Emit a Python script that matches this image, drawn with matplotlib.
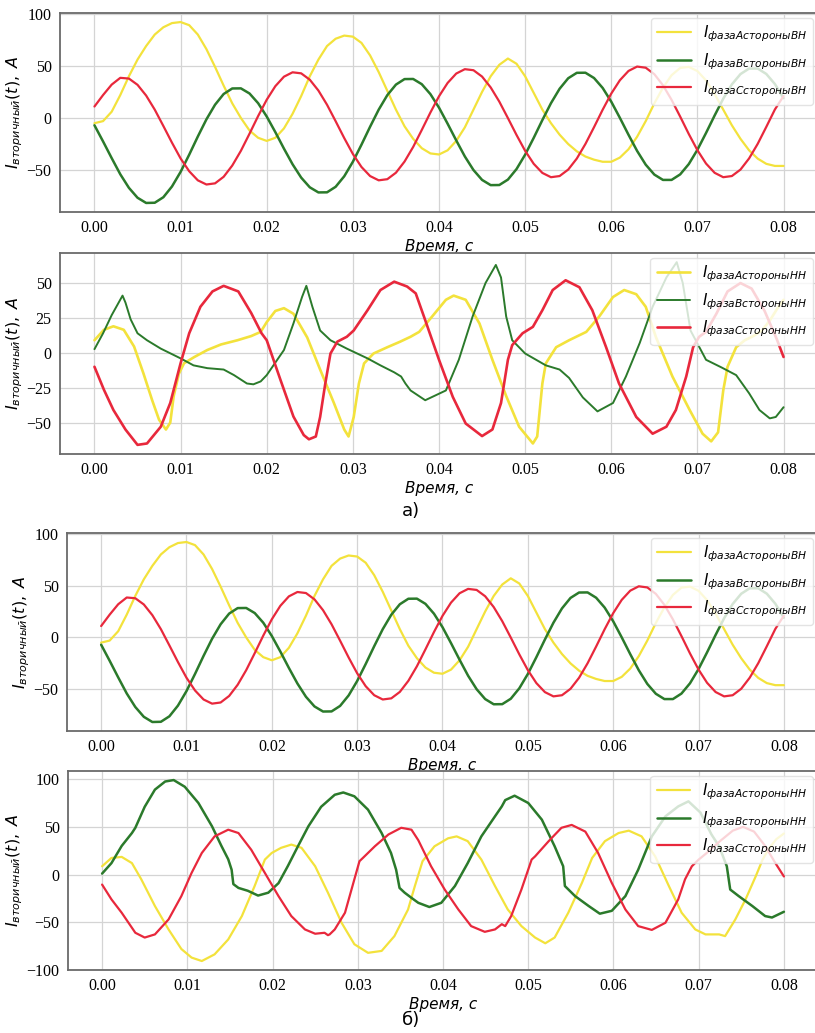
import numpy as np
import matplotlib
matplotlib.use("Agg")
import matplotlib.pyplot as plt

# --- data (time in ms, current in A) ---
# ВН side, same in both cases (a and б), sampled every 1 ms
t_bh = list(range(0, 81))
ia_bh = [-5, -3, 6, 22, 40, 56, 69, 80, 87, 91,
         92, 89, 80, 66, 49, 31, 14, 0, -12, -19,
         -22, -19, -10, 4, 21, 40, 56, 69, 76, 79,
         78, 72, 60, 44, 26, 8, -8, -20, -29, -34,
         -35, -31, -22, -9, 8, 25, 40, 51, 57, 52,
         40, 24, 8, -5, -16, -25, -32, -37, -40, -42,
         -42, -38, -30, -18, -3, 14, 29, 41, 48, 49,
         45, 36, 23, 8, -7, -20, -31, -39, -44, -46, -46]
ib_bh = [-7, -22.5, -38.5, -54, -67, -76.5, -81.5, -81.3, -76, -65.7,
         -51.7, -35.2, -17.8, -1.3, 12.7, 23, 28.3, 28.4, 23.5, 14.2,
         1.4, -13.6, -29.4, -44.4, -57.2, -66.5, -71.4, -71.3, -66, -55.9,
         -42, -25.6, -8.4, 8, 21.9, 32, 37.3, 37.4, 32.4, 22.9,
         9.9, -5.5, -21.5, -36.9, -49.9, -59.4, -64.4, -64.3, -59.1, -49,
         -35.2, -19, -2, 14.2, 28, 38.1, 43.3, 43.4, 38.3, 28.8,
         15.6, 0.1, -16.1, -31.6, -44.8, -54.3, -59.4, -59.4, -54.1, -44.2,
         -30.5, -14.4, 2.4, 18.5, 32.2, 42.1, 47.4, 47.4, 42.2, 32.5, 19]
ic_bh = [11, 22, 32, 38.5, 37.8, 31.8, 21.5, 8, -7.7, -23.7,
         -38.8, -51.1, -59.8, -63.8, -62.7, -56.4, -45.6, -31.5, -15.1, 1.8,
         17.5, 30.5, 39.6, 43.8, 42.8, 36.7, 26.3, 12.7, -3.1, -19.3,
         -34.5, -47, -55.7, -59.8, -58.7, -52.5, -41.8, -27.8, -11.5, 5.2,
         20.8, 33.6, 42.6, 46.8, 45.8, 39.7, 29.3, 15.7, -0.1, -16.3,
         -31.5, -44, -52.7, -56.8, -55.7, -49.5, -38.9, -24.9, -8.8, 7.9,
         23.4, 36.2, 45.1, 49.3, 48.2, 42, 31.4, 17.4, 1.3, -15.4,
         -30.9, -43.7, -52.6, -56.8, -55.7, -49.5, -38.8, -24.8, -8.5, 8.2, 21]

# НН side, case а)
ta_nh_a = [0, 1.1, 2.2, 3.4, 4.6, 5.7, 6.7, 7.5, 8.3, 8.8, 9.2, 9.8, 10.4, 11.6,
           13.1, 14.7, 16.6, 18.2, 19.3, 20, 21, 22, 23.1, 24.7, 26.2, 27.8,
           29, 29.5, 30.1, 30.7, 31.3, 32.4, 34, 35.5, 36.7, 37.7, 39.2, 40.8,
           41.7, 43.1, 44.7, 46.2, 47.8, 49.3, 50.9, 51.4, 52, 52.4, 53.6,
           55.1, 57.1, 58.6, 60.2, 61.5, 62.9, 64, 65.2, 67.1, 69.1, 70.6,
           71.6, 72.4, 73, 73.5, 74.5, 75.5, 76.5, 77.5, 78.5, 79.3, 80]
ia_nh_a = [9, 16.5, 19, 16.5, 4.5, -15, -34, -48, -55, -50, -31, -15, -7.5, -3,
           2, 6, 9, 12, 15, 22, 30, 32, 28, 11, -12, -36,
           -55, -60, -46, -22, -7.6, -0.5, 4, 8, 11.5, 15, 26, 38,
           41, 38, 21, -5, -31, -53, -65, -60, -22, -7.6, 4,
           9, 15, 26, 40, 45, 42, 33, 11, -17, -41, -58,
           -63.5, -57, -27, -10, 4, 9, 12, 16, 24, 32, 38]
tb_nh_a = [0, 1, 2, 3.26, 3.6, 4.2, 5, 6.1, 7.7, 10, 11.5, 13.1, 15, 16.2, 17.7,
           18.45, 19.3, 20, 21, 22, 23.1, 24.1, 24.6, 25.3, 26.2, 27.4, 29.3,
           31.7, 33.2, 34.8, 35.6, 36.1, 36.7, 38.4, 40.8, 42.3, 43.9, 45.4,
           46.6, 47.2, 47.8, 48.5, 50, 52.4, 54, 55.1, 56.7, 58.4, 60.2, 61.7,
           63.3, 64.8, 66.4, 67.6, 68.3, 69.2, 70.4, 71, 72.8, 74.5, 76, 77.2,
           78.4, 79.1, 80]
ib_nh_a = [2.6, 14, 27, 41, 36, 24, 14, 9, 3, -4, -9, -11, -12, -16, -22,
           -22.6, -20.5, -16, -7, 2, 21, 40, 48, 33, 16, 9, 3,
           -4, -9, -14, -17, -22, -27, -34, -27, -5, 26, 50,
           63, 54, 26, 9, -0.5, -9, -12, -18, -32, -42, -36, -17,
           7, 33, 54, 65, 50, 16, 2, -5, -10.5, -16, -29, -41,
           -47, -46, -39]
tc_nh_a = [0, 1.1, 2.2, 3.6, 5, 6.1, 7.7, 8.8, 10, 11, 12.3, 13.7, 15, 16.7,
           18.2, 19.4, 20, 21.6, 23.1, 24.3, 24.9, 25.7, 26.2, 26.8, 27.4,
           28.2, 29.3, 30.1, 31.7, 33.2, 34.8, 36.3, 37.3, 38.4, 40, 41.6,
           43.1, 45, 46.2, 47.2, 48, 48.5, 49.7, 50.9, 52, 53.2, 54.7, 56.3,
           57.8, 59.4, 60.9, 62.9, 64.8, 66.4, 67.5, 68.7, 69.5, 70.2, 71,
           72.2, 73.5, 75, 76.3, 77.8, 79.2, 80]
ic_nh_a = [-10, -26.5, -41, -55, -66, -65, -53, -36, -7.5, 14, 33, 44, 48, 44,
           28.5, 14, 9, -19.5, -45.7, -59, -62, -60, -46, -22, -0.5,
           8, 11.5, 16, 30.5, 45, 51, 47.5, 42.6, 23.4, -5, -31.6,
           -50.7, -59.7, -55, -36, -5, 5.5, 14, 18.6, 30.5, 45, 52, 47,
           30.5, 4, -22, -46, -58, -53, -41, -17, 4, 11.5, 15,
           28, 44, 50, 46, 30, 10, -3]

# НН side, case б)
ta_nh_b = [0, 1.1, 2.3, 3.5, 4.6, 6.2, 7.8, 9.3, 10.5, 11.7, 13.2, 14.8, 16.4,
           17.9, 19.1, 19.9, 21, 22.2, 23.4, 25, 26.5, 28.1, 29.6, 31.2, 32.8,
           34.3, 35.9, 36.7, 37.6, 39, 40.6, 41.6, 42.9, 44.5, 46.1, 47.6,
           49.2, 50.8, 52, 53.1, 54.7, 56.3, 57.5, 59, 60.6, 61.8, 63.3, 64.9,
           66.5, 68, 69.6, 70.8, 72.4, 73.1, 74.3, 75.5, 76.7, 77.5, 78.3,
           79.1, 80]
ia_nh_b = [8.7, 17.4, 18.5, 12, -5, -33, -57.5, -78, -87, -90.6, -83.6, -68, -43.5,
           -12, 15.7, 22.6, 28, 31.4, 28, 8.7, -19, -50.5, -73, -82, -80,
           -64.5, -36.6, -12, 14, 29.6, 38, 40, 35, 15.7, -12, -36.6,
           -54, -66, -72, -66, -40, -8.7, 17.4, 35, 43.5, 46, 40, 19,
           -12, -40, -57.5, -62.7, -62.7, -64.5, -47, -26, -1.7, 15.7, 28,
           37, 43]
tb_nh_b = [0, 1.1, 2.3, 3.5, 3.9, 5, 6.2, 7.4, 8.4, 9.7, 11.3, 12.9, 14, 14.8,
           15.2, 15.4, 16, 17.1, 18.3, 19.5, 20.7, 21.8, 23, 24.2, 25.7, 27.3,
           28.3, 29.6, 31.2, 32.8, 33.9, 34.5, 34.9, 35.5, 36.3, 37.1, 38.4,
           39.8, 41.4, 42.9, 44.5, 46.1, 46.9, 47.3, 48.4, 50, 51.6, 53.1,
           54.1, 54.3, 55.5, 57.1, 58.4, 59.8, 61.4, 62.9, 64.5, 66.1, 67.6,
           68.8, 70.2, 71.5, 72.4, 73.3, 73.7, 74.7, 76.3, 77.8, 78.6, 80]
ib_nh_b = [1, 12, 30, 43.5, 49, 71, 89, 97.5, 99, 92, 75, 50.5, 30, 16,
           5, -10, -14, -17, -22, -19, -9, 9, 30, 50.5, 71, 83.6,
           86, 82, 68, 43.5, 22.6, 5, -14, -19, -24.4, -29.6, -34,
           -29.6, -12, 12, 40, 61, 71.4, 78, 82.6, 75, 57.5, 29.6,
           8.7, -12, -22.6, -33, -41, -38, -22.6, 5, 40, 61, 71.4,
           76.7, 65, 42, 29.6, 8.7, -15.7, -22.6, -33, -43.5, -45, -39]
tc_nh_b = [0, 1.1, 2.3, 3.9, 5, 6.2, 7.8, 9.3, 10.5, 11.7, 13.2, 14.8, 16, 17.5,
           19.1, 20.7, 22.2, 23.8, 25, 26.1, 26.5, 26.7, 27.3, 28.5, 29.6,
           30.2, 30.6, 32, 33.6, 35.1, 36.3, 37.1, 38.6, 40.2, 41.8, 43.3,
           44.9, 46.1, 46.9, 47.3, 48, 49.2, 50.4, 50.8, 52.4, 53.9, 55.1,
           56.7, 58.2, 59.8, 61.4, 62.9, 64.5, 66.1, 67.6, 68.4, 69.2, 70,
           71, 72.5, 74, 75.2, 76.5, 77.8, 79, 80]
ic_nh_b = [-10.5, -26, -40, -61, -66, -62.7, -47, -22.6, 1.7, 22.6, 40, 47, 43.5, 26,
           1.7, -22.6, -43.5, -57.5, -62, -61, -63.5, -62.7, -57.5, -40, -5,
           14, 17.4, 29.6, 42, 49, 47, 36, 8.7, -15.7, -36.6, -54,
           -60, -57.5, -52, -54, -43.5, -15.7, 15.7, 19, 35, 49, 52,
           45, 22.6, -8.7, -36.6, -54, -58, -50.5, -26, -5, 8.7, 15.7,
           23, 35, 46, 50, 45, 30, 12, -2]

YELLOW = "#f3e23c"
GREEN = "#2b7a2b"
RED = "#e8283c"

plt.rcParams["font.family"] = ["DejaVu Sans"]
plt.rcParams["mathtext.fontset"] = "dejavusans"
plt.rcParams["lines.solid_joinstyle"] = "round"
plt.rcParams["lines.solid_capstyle"] = "round"

W, H = 815, 1033
fig = plt.figure(figsize=(W / 100, H / 100), dpi=100)


def make_axes(left, top, bottom, right=818):
    return fig.add_axes([left / W, 1 - bottom / H, (right - left) / W, (bottom - top) / H])


def style_axes(ax):
    ax.grid(True, color="#d4d4d4", linewidth=0.9)
    ax.set_axisbelow(True)
    for sp in ax.spines.values():
        sp.set_color("#6a6a6a")
        sp.set_linewidth(1.3)
    ax.tick_params(length=0, pad=6)
    for lab in ax.get_yticklabels():
        lab.set_fontfamily("Liberation Serif")
        lab.set_fontsize(11.5)
    ax.set_xticks([0.0, 0.01, 0.02, 0.03, 0.04, 0.05, 0.06, 0.07, 0.08])
    ax.set_xticklabels(["0.00", "0.01", "0.02", "0.03", "0.04", "0.05", "0.06", "0.07", "0.08"],
                       fontfamily="Liberation Serif", fontsize=11.5)
    ax.set_xlabel("Время, с", fontstyle="italic", fontsize=11, labelpad=2)
    ax.set_ylabel(r"$I_{вторичный}(t),\ A$", fontsize=11.5, labelpad=1)


def ms(v):
    return np.array(v) / 1000.0


def plot_bh(ax):
    ax.plot(ms(t_bh), ia_bh, color=YELLOW, lw=1.6, label=r"$I_{фазаAстороныВН}$")
    ax.plot(ms(t_bh), ib_bh, color=GREEN, lw=1.8, label=r"$I_{фазаBстороныВН}$")
    ax.plot(ms(t_bh), ic_bh, color=RED, lw=1.6, label=r"$I_{фазаCстороныВН}$")


def plot_nh(ax, ta, ia, tb, ib, tc, ic, lws):
    ax.plot(ms(ta), ia, color=YELLOW, lw=lws[0], label=r"$I_{фазаAстороныНН}$")
    ax.plot(ms(tb), ib, color=GREEN, lw=lws[1], label=r"$I_{фазаBстороныНН}$")
    ax.plot(ms(tc), ic, color=RED, lw=lws[2], label=r"$I_{фазаCстороныНН}$")


ax1 = make_axes(60, 13, 212)
plot_bh(ax1)
ax2 = make_axes(60, 253, 454)
plot_nh(ax2, ta_nh_a, ia_nh_a, tb_nh_a, ib_nh_a, tc_nh_a, ic_nh_a, (1.9, 1.4, 1.9))
ax3 = make_axes(67, 533, 731)
plot_bh(ax3)
ax4 = make_axes(68, 771, 970)
plot_nh(ax4, ta_nh_b, ia_nh_b, tb_nh_b, ib_nh_b, tc_nh_b, ic_nh_b, (1.6, 1.8, 1.6))

for ax in (ax1, ax2, ax3, ax4):
    ax.set_xlim(-0.004, 0.084)
    style_axes(ax)
    leg = ax.legend(loc="upper right", fontsize=11, handlelength=2.2,
                    borderaxespad=0.3, framealpha=0.8, labelspacing=0.45)
    leg.get_frame().set_edgecolor("#dddddd")

ax4.set_ylim(-100, 108.5)

fig.text(411 / W, 1 - 511 / H, "а)", ha="center", va="center", fontsize=13)
fig.text(411 / W, 1 - 1020 / H, "б)", ha="center", va="center", fontsize=13)

fig.savefig("out.png", dpi=100)
